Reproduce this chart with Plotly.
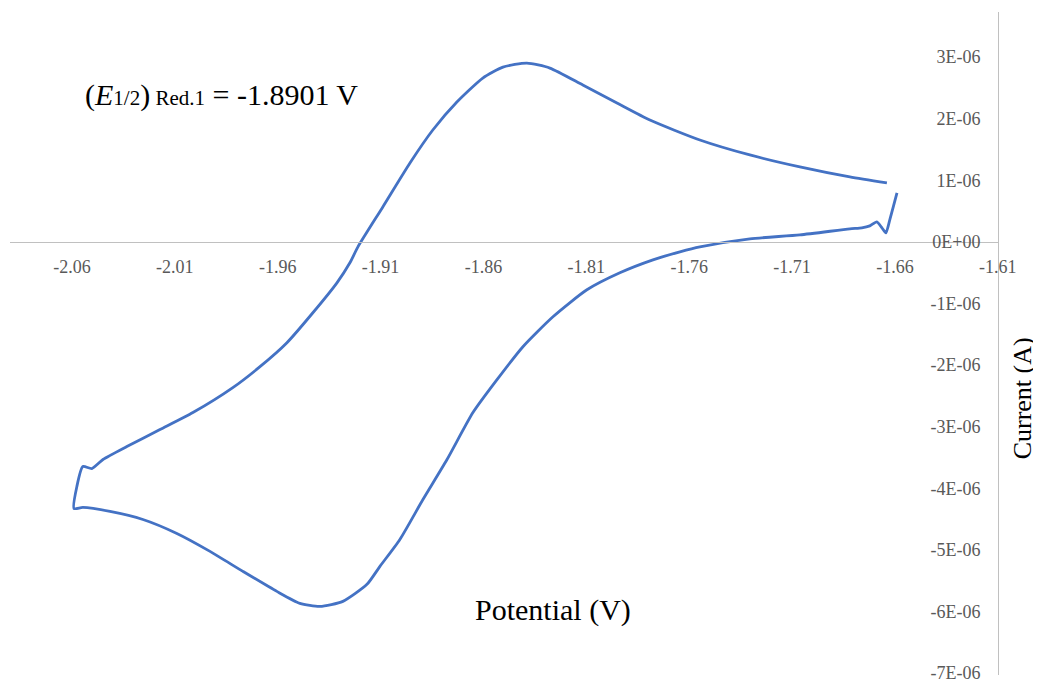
import plotly.graph_objects as go

# Cyclic voltammogram (potential in V, current in µA)
potential_V = [
    -1.6590, -1.6625, -1.6644, -1.6663, -1.6688, -1.6722, -1.6761, -1.6819,
    -1.7062, -1.7305, -1.7548, -1.7645, -1.7776, -1.7937, -1.8097, -1.8262,
    -1.8408, -1.8534, -1.8651, -1.8777, -1.8894, -1.9006, -1.9103, -1.9166,
    -1.9283, -1.9395, -1.9492, -1.9604, -1.9769, -1.9929, -2.0090, -2.0255,
    -2.0415, -2.0547, -2.0590,
    -2.0576, -2.0547, -2.0503, -2.0449, -2.0333, -2.0172, -2.0012, -1.9818,
    -1.9686, -1.9555, -1.9429, -1.9312, -1.9249, -1.9210, -1.9089, -1.8957,
    -1.8846, -1.8729, -1.8603, -1.8505, -1.8389, -1.8277, -1.8117, -1.7951,
    -1.7791, -1.7548, -1.7305, -1.7062, -1.6819, -1.6639,
]
current_uA = [
    0.794, 0.357, 0.146, 0.227, 0.324, 0.259, 0.227, 0.211,
    0.113, 0.049, -0.081, -0.162, -0.292, -0.502, -0.778, -1.216,
    -1.702, -2.237, -2.771, -3.533, -4.182, -4.830, -5.267, -5.559,
    -5.835, -5.916, -5.867, -5.673, -5.348, -5.024, -4.733, -4.506,
    -4.376, -4.311, -4.327,
    -3.971, -3.647, -3.679, -3.533, -3.323, -3.047, -2.771, -2.366,
    -2.026, -1.637, -1.151, -0.665, -0.340, -0.081, 0.567, 1.280,
    1.815, 2.269, 2.658, 2.836, 2.901, 2.820, 2.545, 2.253,
    1.977, 1.653, 1.410, 1.216, 1.053, 0.956,
]

x_ticks = [-2.06, -2.01, -1.96, -1.91, -1.86, -1.81, -1.76, -1.71, -1.66, -1.61]
x_tick_labels = ["-2.06", "-2.01", "-1.96", "-1.91", "-1.86", "-1.81", "-1.76", "-1.71", "-1.66", "-1.61"]
y_ticks = [3e-6, 2e-6, 1e-6, 0, -1e-6, -2e-6, -3e-6, -4e-6, -5e-6, -6e-6, -7e-6]
y_tick_labels = ["3E-06", "2E-06", "1E-06", "0E+00", "-1E-06", "-2E-06", "-3E-06",
                 "-4E-06", "-5E-06", "-6E-06", "-7E-06"]

current_A = [c * 1e-6 for c in current_uA]

x_range = [-2.0901, -1.6099]
y_range = [-7.03e-6, 3.73e-6]
x_axis_pos = (0 - y_range[0]) / (y_range[1] - y_range[0])

SERIF = "Liberation Serif, Times New Roman, serif"
TICK_COLOR = "#595959"
AXIS_COLOR = "#c0c0c0"

fig = go.Figure()
fig.add_trace(go.Scatter(
    x=potential_V, y=current_A, mode="lines",
    line=dict(color="#4472C4", width=2.8, shape="spline", smoothing=0.6),
    hoverinfo="skip", showlegend=False,
))

fig.update_layout(
    width=1033, height=677,
    margin=dict(l=2, r=43, t=4, b=8),
    paper_bgcolor="white", plot_bgcolor="white",
    showlegend=False,
    xaxis=dict(
        range=x_range, tickvals=x_ticks, ticktext=x_tick_labels,
        anchor="free", position=x_axis_pos,
        showline=True, linecolor=AXIS_COLOR, linewidth=1.3,
        showgrid=False, zeroline=False, ticks="",
        ticklabelstandoff=8, ticklabeloverflow="allow",
        tickfont=dict(family=SERIF, size=18, color=TICK_COLOR),
    ),
    yaxis=dict(
        range=y_range, tickvals=y_ticks, ticktext=y_tick_labels,
        side="right", ticklabelposition="inside",
        showline=True, linecolor=AXIS_COLOR, linewidth=1.3,
        showgrid=False, zeroline=False, ticks="",
        ticklabelstandoff=18, ticklabeloverflow="allow",
        tickfont=dict(family=SERIF, size=18, color=TICK_COLOR),
    ),
    annotations=[
        dict(
            text=("(<i>E</i><span style='font-size:21px'>1/2</span>)"
                  "<span style='font-size:21px'> Red.1</span> = -1.8901 V"),
            xref="paper", yref="paper", x=0.0739, y=0.875,
            xanchor="left", yanchor="middle", showarrow=False,
            font=dict(family=SERIF, size=30, color="black"),
        ),
        dict(
            text="Potential (V)",
            xref="paper", yref="paper", x=0.5496, y=0.0977,
            xanchor="center", yanchor="middle", showarrow=False,
            font=dict(family=SERIF, size=30, color="black"),
        ),
        dict(
            text="Current (A)",
            xref="paper", yref="paper", x=1.0248, y=0.4165,
            xanchor="center", yanchor="middle", showarrow=False, textangle=-90,
            font=dict(family=SERIF, size=26, color="black"),
        ),
    ],
)

fig.write_html("out.html")
